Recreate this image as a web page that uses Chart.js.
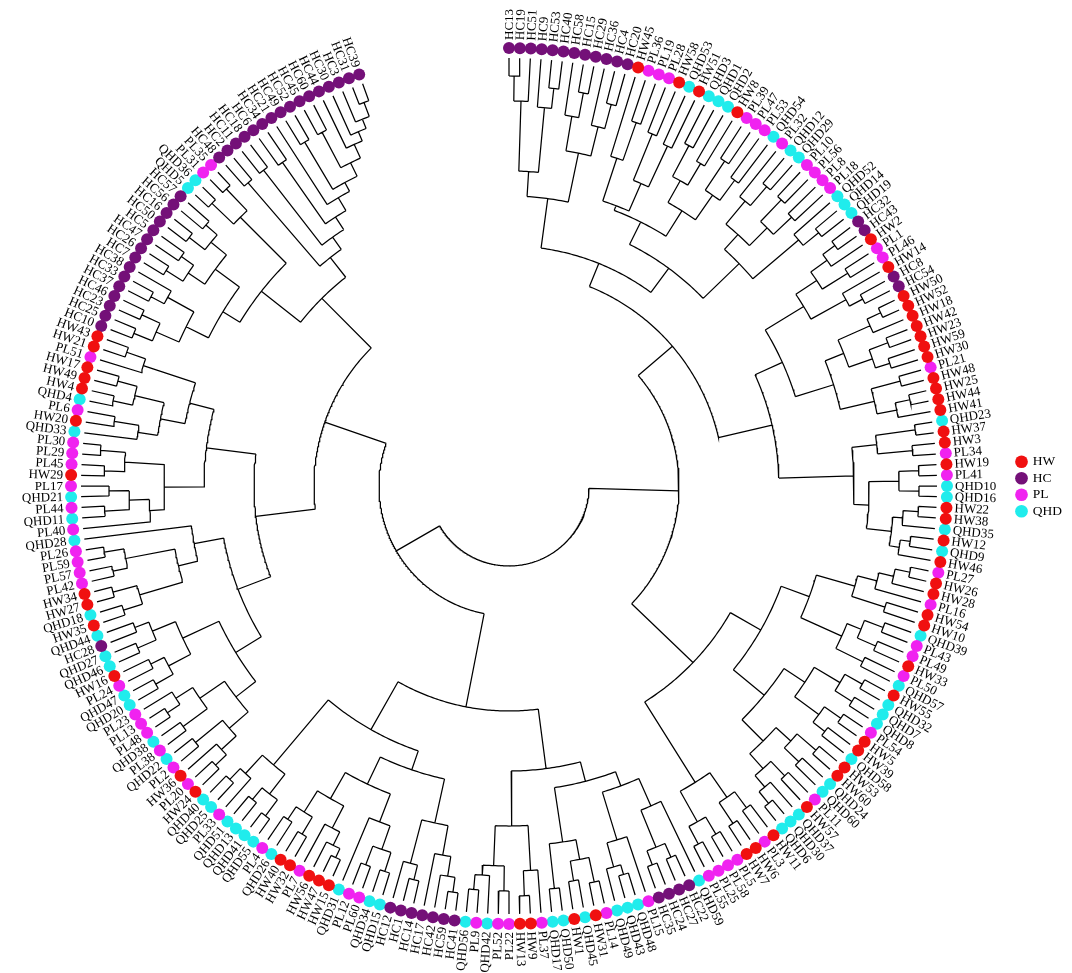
<!DOCTYPE html>
<html>
<head>
<meta charset="utf-8">
<script src="https://cdn.jsdelivr.net/npm/chart.js@4.4.1/dist/chart.umd.min.js"></script>
<style>
  html, body { margin: 0; padding: 0; background: #ffffff; }
  #wrap { width: 1072px; height: 973px; position: relative; }
</style>
</head>
<body>
<div id="wrap"><canvas id="c"></canvas></div>
<script>
// ---------------- DATA ----------------
// Leaf labels in clockwise order, starting at 12 o'clock
const leafLabels = [
  'HC13','HC19','HC51','HC9','HC53','HC40','HC58','HC15','HC29','HC36','HC4','HC20',
  'HW45','PL36','PL19','PL28','HW58','QHD53','HW51','QHD3','QHD1','QHD2','HW8','PL39',
  'PL47','PL53','QHD54','PL32','QHD12','QHD29','PL10','PL56','PL8','PL18','QHD52','QHD14',
  'QHD19','HC32','HC43','HW2','PL1','PL46','HW14','HC8','HC54','HW50','HW52','HW18',
  'HW42','HW23','HW59','HW30','PL21','HW48','HW25','HW44','HW41','QHD23','HW37','HW3',
  'PL34','HW19','PL41','QHD10','QHD16','HW22','HW38','QHD35','HW12','QHD9','HW46','PL27',
  'HW26','HW28','PL16','HW54','HW10','QHD39','PL43','PL49','HW33','PL50','QHD57','HW55',
  'QHD32','QHD7','QHD8','PL54','HW5','HW39','QHD58','HW53','HW60','QHD24','QHD60','PL11',
  'HW57','QHD37','QHD30','QHD6','HW11','PL3','HW6','HW7','PL5','PL58','PL25','PL55',
  'QHD59','HC22','HC27','HC24','HC35','PL15','QHD48','QHD43','QHD49','PL14','HW31','QHD45',
  'HW1','QHD50','QHD17','PL37','HW9','HW13','PL22','PL52','QHD42','PL9','QHD56','HC41',
  'HC59','HC42','HC17','HC14','HC1','HC12','QHD15','QHD34','PL60','PL12','QHD31','HW15',
  'HW47','HW56','PL7','HW32','HW40','QHD26','PL4','QHD55','QHD41','QHD13','QHD51','PL33',
  'QHD25','QHD40','HW24','PL20','HW36','PL2','QHD22','PL38','QHD38','PL48','PL13','PL23',
  'QHD20','QHD47','PL24','HW16','QHD46','QHD27','HC28','QHD44','HW35','QHD18','HW27','HW34',
  'PL42','PL57','PL59','PL26','QHD28','PL40','QHD11','PL44','QHD21','PL17','HW29','PL45',
  'PL29','PL30','QHD33','HW20','PL6','QHD4','HW4','HW49','HW17','PL51','HW21','HW43',
  'HC10','HC25','HC23','HC46','HC37','HC33','HC38','HC7','HC26','HC47','HC5','HC50',
  'HC16','HC56','HC57','QHD5','QHD36','PL31','PL35','HC48','HC2','HC11','HC18','HC6',
  'HC34','HC21','HC49','HC52','HC45','HC60','HC44','HC30','HC3','HC31','HC39'
];

// Groups (legend order) and their colours
const groupNames  = ['HW', 'HC', 'PL', 'QHD'];
const groupColors = ['#f01010', '#741078', '#f022f0', '#20ecec'];

// Clades: "(children)r" where r = radius of the joining arc (leaves sit at 428)
const T1  = '((((HC13,HC19)410,HC51)385,(HC9,(HC53,HC40)400)380)315,((HC58,(HC15,HC29)400)375,(HC36,(HC4,HC20)395)370)340)290';
const T2  = '((HW45,(PL36,PL19)385)345,((PL28,HW58)380,(QHD53,HW51)375)330)300';
const T3  = '(((QHD3,QHD1)385,(QHD2,HW8)375)350,((PL39,PL47)390,(PL53,QHD54)380)355)325';
const T4  = '((PL32,(QHD12,QHD29)395)370,((PL10,PL56)395,(PL8,PL18)390)365)340';
const T5  = '(QHD52,(QHD14,QHD19)400)380';
const T6  = '((((HC32,HC43)405,HW2)390,(PL1,PL46)400)370,(HW14,(HC8,HC54)400)385)345';
const T7  = '((((HW50,HW52)410,HW18)395,((HW42,HW23)405,(HW59,HW30)400)385)360,((PL21,HW48)405,((HW25,HW44)410,HW41)395)375)340';
const T8  = '(((QHD23,HW37)410,(HW3,PL34)405)370,(((HW19,PL41)410,(QHD10,QHD16)410)390,(((HW22,HW38)410,QHD35)395,((HW12,QHD9)405,HW46)395)385)360)345';
const T9  = '(((((PL27,HW26)410,HW28)395,PL16)380,(HW54,HW10)395)360,(((QHD39,PL43)400,(PL49,HW33)400)380,(PL50,QHD57)395)365)320';
const T10 = '((((HW55,QHD32)405,(QHD7,QHD8)405)385,((PL54,HW5)405,(HW39,QHD58)400)385)355,(((HW53,HW60)405,(QHD24,QHD60)400)380,((PL11,HW57)400,(QHD37,(QHD30,QHD6)410)395)380)360)330';
const T11 = '(((HW11,PL3)400,(HW6,HW7)405)380,((PL5,PL58)405,(PL25,PL55)405)385)350';
const T12 = '((QHD59,((HC22,HC27)405,(HC24,HC35)405)390)350,(PL15,((QHD48,QHD43)405,QHD49)395)370)320';
const T13 = '(((PL14,HW31)405,(QHD45,HW1)400)380,(QHD50,QHD17)405)360';
const T14 = '((PL37,(HW9,HW13)410)385,((PL22,PL52)405,(QHD42,(PL9,QHD56)405)390)380)340';
const T15 = '((((HC41,HC59)410,HC42)395,HC17)375,((HC14,HC1)405,HC12)390)345';
const T16 = '(((QHD15,QHD34)405,(PL60,PL12)405)385,QHD31)360';
const T17 = '((((HW15,HW47)410,HW56)400,PL7)385,((HW32,HW40)405,(QHD26,PL4)400)385)360';
const T18 = '(((QHD55,QHD41)410,(QHD13,QHD51)405)390,(PL33,(QHD25,QHD40)405)390)365';
const T19 = '((((HW24,PL20)405,HW36)390,(PL2,QHD22)405)370,((PL38,QHD38)405,((PL48,PL13)410,PL23)395)375)345';
const T20 = '(((QHD20,QHD47)405,(PL24,HW16)400)385,((QHD46,QHD27)405,(HC28,QHD44)400)385)360';
const T21 = '((((HW35,QHD18)405,(HW27,HW34)410)385,((PL42,PL57)405,(PL59,PL26)410)390)340,QHD28)320';
const T22 = '((PL40,((QHD11,PL44)405,(QHD21,PL17)400)380)360,((HW29,PL45)405,(PL29,PL30)410)385)345';
const T23 = '((QHD33,(HW20,PL6)400)375,((QHD4,HW4)405,(HW49,HW17)405)385)355';
const T24 = '(PL51,(HW21,HW43)405)385';
const T25 = '((HC48,HC2)400,((HC11,HC18)400,((HC6,HC34)395,(HC21,((HC49,HC52)400,((HC45,HC60)400,(HC44,(HC30,(HC3,(HC31,HC39)410)395)385)375)360)345)335)320)305)290';
const T26 = '((((HC10,HC25)405,(HC23,HC46)405)385,((HC37,HC33)405,HC38)390)360,(((HC7,HC26)405,(HC47,HC5)400)385,((HC50,HC16)405,(HC56,HC57)400)385)365)335';
const T27 = '((QHD5,QHD36)410,(PL31,PL35)410)380';

// Backbone joins
const R1 = `(${T1},((${T2},${T3})295,(${T4},${T5})320)270)240`;
const R2 = `((${T6},${T7})300,${T8})270`;
const R3 = `((${T9},${T10})290,${T11})255`;
const RIGHT = `((${R1},${R2})215,${R3})170`;
const BR = `((${T12},${T13})305,${T14})285`;
const BL = `((${T15},(${T16},${T17})330)300,${T18})280`;
const BOTTOM = `(${BR},${BL})225`;
const LL = `((${T19},${T20})320,${T21})290`;
const LM = `(${T22},(${T23},${T24})330)305`;
const TL = `((${T26},${T27})315,${T25})265`;
const LEFT = `((${LL},${LM})255,${TL})195`;
const treeNewick = `(${RIGHT},(${BOTTOM},${LEFT})130)80`;

// ---------------- GEOMETRY (layout constants) ----------------
const centerPx = { x: 503, y: 480 };
const startAngle = 90, spanAngle = 340;
const dotR = 438, tipR = 428, labelR = 446;
const step = spanAngle / (leafLabels.length - 1);
const leafAngle = {};
leafLabels.forEach((l, i) => { leafAngle[l] = startAngle - i * step; });
const rad = d => d * Math.PI / 180;
const polar = (r, a) => ({ x: r * Math.cos(rad(a)), y: r * Math.sin(rad(a)) });
const groupOf = l => l.startsWith('QHD') ? 'QHD' : l.slice(0, 2);

// ---------------- TREE PARSING ----------------
function parseTree(s) {
  let i = 0;
  function node() {
    if (s[i] === '(') {
      i++;
      const children = [];
      while (true) {
        children.push(node());
        if (s[i] === ',') { i++; continue; }
        if (s[i] === ')') { i++; break; }
        throw new Error('bad tree at ' + i);
      }
      let num = '';
      while (i < s.length && /[0-9.]/.test(s[i])) num += s[i++];
      return { children, r: parseFloat(num) };
    }
    let name = '';
    while (i < s.length && !',()'.includes(s[i])) name += s[i++];
    return { name };
  }
  return node();
}
const tree = parseTree(treeNewick.replace(/\s+/g, ''));

const treePts = [];
function layout(n) {
  if (!n.children) { n.theta = leafAngle[n.name]; n.rr = tipR; return; }
  n.children.forEach(layout);
  const ths = n.children.map(c => c.theta);
  const mx = Math.max(...ths), mn = Math.min(...ths);
  n.theta = (mx + mn) / 2; n.rr = n.r;
  const steps = Math.max(2, Math.ceil((mx - mn) / 0.5));
  for (let k = 0; k <= steps; k++) treePts.push(polar(n.r, mx - (mx - mn) * k / steps));
  treePts.push({ x: null, y: null });
  n.children.forEach(c => {
    treePts.push(polar(n.r, c.theta));
    treePts.push(polar(c.rr, c.theta));
    treePts.push({ x: null, y: null });
  });
}
layout(tree);

// ---------------- DATASETS ----------------
const dotDatasets = groupNames.map((g, gi) => ({
  label: g,
  data: leafLabels.filter(l => groupOf(l) === g).map(l => polar(dotR, leafAngle[l])),
  backgroundColor: groupColors[gi],
  borderColor: groupColors[gi],
  borderWidth: 0,
  pointRadius: 6,
  pointHoverRadius: 6,
  order: 0
}));
const treeDataset = {
  label: 'tree',
  data: treePts,
  showLine: true,
  spanGaps: false,
  pointRadius: 0,
  borderColor: '#000000',
  borderWidth: 1.25,
  tension: 0,
  order: 1
};

// ---------------- LABEL PLUGIN ----------------
const leafLabelPlugin = {
  id: 'leafLabels',
  afterDatasetsDraw(chart) {
    const { ctx, scales: { x, y } } = chart;
    ctx.save();
    ctx.font = '13px "Liberation Serif", "Times New Roman", serif';
    ctx.fillStyle = '#000';
    ctx.textBaseline = 'middle';
    leafLabels.forEach(l => {
      const a = leafAngle[l];
      const p = polar(labelR, a);
      const px = x.getPixelForValue(p.x), py = y.getPixelForValue(p.y);
      let na = ((a % 360) + 360) % 360; if (na > 180) na -= 360;
      ctx.save();
      ctx.translate(px, py);
      if (na > -90 && na <= 90) { ctx.rotate(-rad(a)); ctx.textAlign = 'left'; }
      else { ctx.rotate(-rad(a) + Math.PI); ctx.textAlign = 'right'; }
      ctx.fillText(l, 0, 0.5);
      ctx.restore();
    });
    ctx.restore();
  }
};

new Chart(document.getElementById('c'), {
  type: 'scatter',
  data: { datasets: [...dotDatasets, treeDataset] },
  options: {
    responsive: true,
    maintainAspectRatio: false,
    animation: false,
    events: [],
    layout: { padding: 0 },
    plugins: {
      tooltip: { enabled: false },
      legend: {
        position: 'right',
        align: 'center',
        labels: {
          filter: item => groupNames.includes(item.text),
          usePointStyle: true,
          pointStyle: 'circle',
          boxWidth: 9,
          boxHeight: 9,
          padding: 3,
          color: '#000',
          font: { family: '"Liberation Serif", "Times New Roman", serif', size: 13.5 }
        }
      }
    },
    scales: {
      x: {
        type: 'linear', display: false, bounds: 'data',
        afterDataLimits(s) { s.min = -centerPx.x; s.max = s.maxWidth - centerPx.x; }
      },
      y: {
        type: 'linear', display: false, bounds: 'data',
        afterDataLimits(s) { s.max = centerPx.y; s.min = centerPx.y - s.maxHeight; }
      }
    }
  },
  plugins: [leafLabelPlugin]
});
</script>
</body>
</html>
